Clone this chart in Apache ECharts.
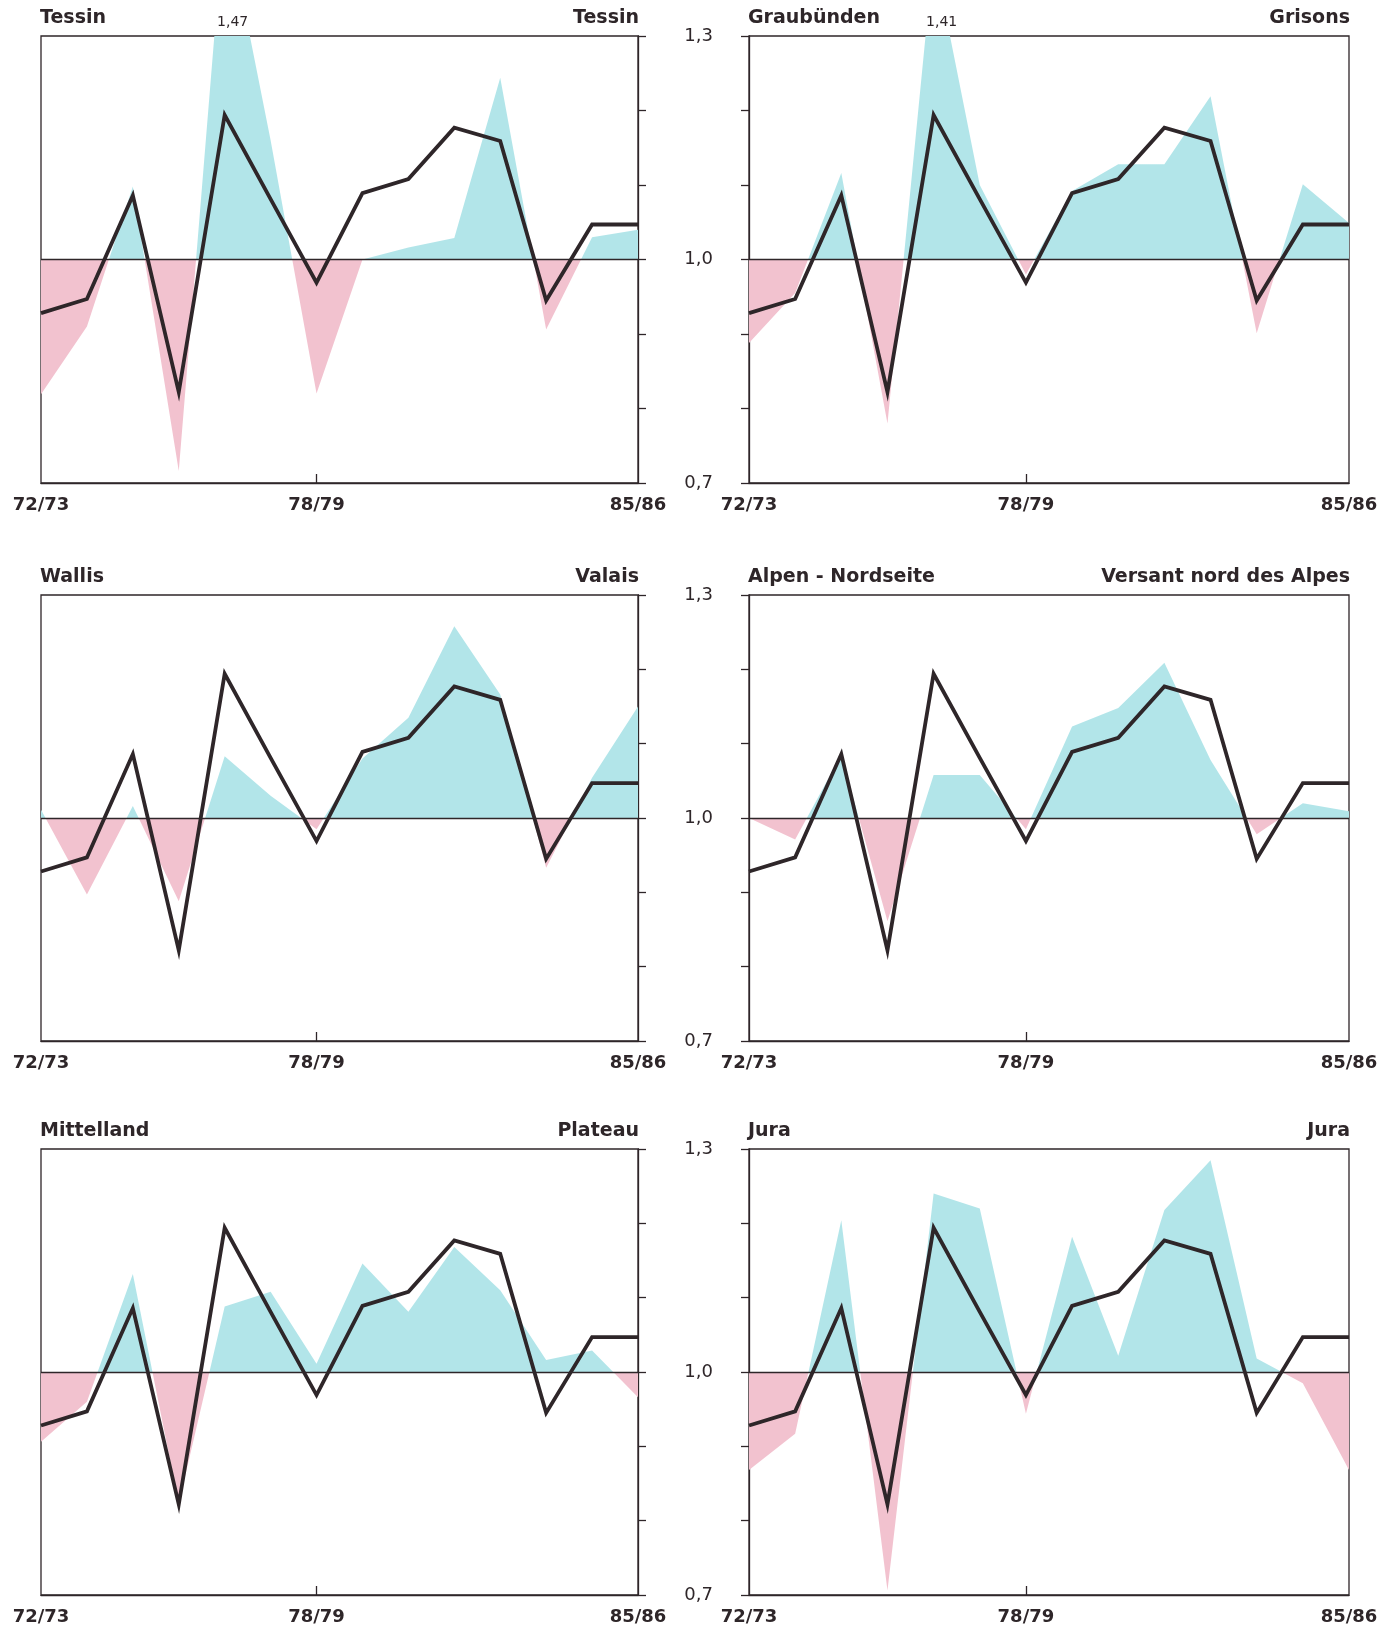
<!DOCTYPE html>
<html>
<head>
<meta charset="utf-8">
<script src="https://cdn.jsdelivr.net/npm/echarts@6/dist/echarts.min.js"></script>
<style>
  html, body { margin: 0; padding: 0; background: #fff; }
  #chart { width: 1397px; height: 1627px; }
</style>
</head>
<body>
<div id="chart"></div>
<script>
// Jahre (x-Achse)
const years = ['72/73', '73/74', '74/75', '75/76', '76/77', '77/78', '78/79',
               '79/80', '80/81', '81/82', '82/83', '83/84', '84/85', '85/86']
const labelYears = ['72/73', '78/79', '85/86']

// schwarze Linie, in allen Feldern gleich
const schweiz = [0.928, 0.947, 1.086, 0.822, 1.194, 1.081, 0.969, 1.089, 1.108, 1.177, 1.159, 0.945, 1.047, 1.047]

// regionale Werte (Flaeche um 1,0)
const tessin      = [0.819, 0.91, 1.098, 0.716, 1.47, 1.16, 0.82, 1.0, 1.016, 1.029, 1.244, 0.906, 1.03, 1.04]
const graubuenden = [0.888, 0.955, 1.116, 0.78, 1.41, 1.1, 0.98, 1.092, 1.128, 1.128, 1.219, 0.901, 1.101, 1.049]
const wallis      = [1.011, 0.897, 1.016, 0.888, 1.083, 1.03, 0.985, 1.08, 1.135, 1.258, 1.166, 0.933, 1.054, 1.15]
const alpenNord   = [1.0, 0.971, 1.085, 0.861, 1.058, 1.058, 0.985, 1.123, 1.148, 1.209, 1.078, 0.978, 1.02, 1.009]
const mittelland  = [0.906, 0.96, 1.132, 0.823, 1.088, 1.108, 1.011, 1.146, 1.081, 1.168, 1.11, 1.016, 1.029, 0.966]
const jura        = [0.868, 0.917, 1.204, 0.706, 1.24, 1.22, 0.944, 1.182, 1.022, 1.218, 1.285, 1.018, 0.985, 0.868]

const namesLeft  = ['Tessin', 'Graubünden', 'Wallis', 'Alpen - Nordseite', 'Mittelland', 'Jura']
const namesRight = ['Tessin', 'Grisons', 'Valais', 'Versant nord des Alpes', 'Plateau', 'Jura']
const regions = [tessin, graubuenden, wallis, alpenNord, mittelland, jura]

const yMin = 0.7, yMax = 1.3, yStep = 0.1

const colLeft = [41, 749]
const colWidth = [597, 600]
const rowTop = [36, 595, 1149]
const rowHeight = [447, 446, 446]

const ink = '#2e2629'
const cyan = '#b2e5e9'
const pink = '#f2c2cf'
const font = '"DejaVu Sans", "Liberation Sans", sans-serif'

const myChart = echarts.init(document.getElementById('chart'))

let grids = [], xAxes = [], yAxes = [], series = [], titles = [], visualMaps = []

regions.forEach((vals, i) => {
    let col = i % 2
    let row = Math.floor(i / 2)
    let left = colLeft[col], top = rowTop[row]
    grids.push({
        left: left, top: top, width: colWidth[col], height: rowHeight[row],
        show: true, borderColor: ink, borderWidth: 1.3, backgroundColor: 'transparent'
    })
    // Titel links und rechts
    titles.push({
        text: namesLeft[i], left: left - 1, top: top - 27, padding: 0,
        textStyle: { fontFamily: font, fontWeight: 'bold', fontSize: 19, color: ink }
    })
    titles.push({
        text: namesRight[i], right: 1397 - (left + colWidth[col]) - 1, top: top - 27, padding: 0,
        textStyle: { fontFamily: font, fontWeight: 'bold', fontSize: 19, color: ink }
    })
    xAxes.push({
        gridIndex: i, type: 'category', data: years, boundaryGap: false,
        axisLine: { show: true, lineStyle: { color: ink, width: 1.3 } },
        axisTick: {
            show: true, inside: true, length: 9,
            interval: (idx, val) => val === '78/79',
            lineStyle: { color: ink, width: 1.3 }
        },
        axisLabel: {
            interval: (idx, val) => labelYears.indexOf(val) >= 0,
            margin: 13, fontFamily: font, fontWeight: 'bold', fontSize: 18, color: ink
        },
        splitLine: { show: false }
    })
    yAxes.push({
        gridIndex: i, type: 'value', min: yMin, max: yMax, interval: yStep,
        position: col === 0 ? 'right' : 'left',
        axisLine: { show: true, lineStyle: { color: ink, width: 1.3 } },
        axisTick: { show: true, length: 8, lineStyle: { color: ink, width: 1.3 } },
        axisLabel: {
            show: col === 1, margin: 36, fontFamily: font, fontSize: 18, color: ink,
            formatter: v => (Math.round(v * 10) % 3 === 1) ? v.toFixed(1).replace('.', ',') : ''
        },
        splitLine: { show: false }
    })
    // Spitzen ueber der Skala
    let peaks = []
    vals.forEach((v, k) => {
        if (v > yMax) peaks.push({ coord: [k, yMax], value: v })
    })
    series.push({
        name: namesLeft[i], type: 'line', xAxisIndex: i, yAxisIndex: i,
        data: vals, symbol: 'none', lineStyle: { width: 0 },
        areaStyle: { origin: 1, opacity: 1 },
        z: 2, silent: true,
        markLine: {
            silent: true, symbol: ['none', 'none'], label: { show: false },
            lineStyle: { color: ink, width: 1.3, type: 'solid' },
            data: [{ yAxis: 1 }]
        },
        markPoint: {
            symbol: 'circle', symbolSize: 1, itemStyle: { color: 'rgba(0,0,0,0)' },
            label: {
                show: true, position: 'top', distance: 6, offset: [8, 0],
                fontFamily: font, fontSize: 14, color: ink,
                formatter: p => String(p.value).replace('.', ',')
            },
            data: peaks
        }
    })
    // unter 1,0 rosa, darueber tuerkis
    visualMaps.push({
        type: 'piecewise', show: false, seriesIndex: series.length - 1, dimension: 1,
        pieces: [{ min: 0, max: 1, color: pink }, { min: 1, max: 5, color: cyan }]
    })
    series.push({
        name: 'Schweiz', type: 'line', xAxisIndex: i, yAxisIndex: i,
        data: schweiz, symbol: 'none', z: 5, silent: true,
        lineStyle: { color: ink, width: 3.8, join: 'miter' }
    })
})

let option = {
    animation: false,
    backgroundColor: '#fff',
    title: titles,
    grid: grids,
    xAxis: xAxes,
    yAxis: yAxes,
    visualMap: visualMaps,
    series: series
}
myChart.setOption(option)
</script>
</body>
</html>
